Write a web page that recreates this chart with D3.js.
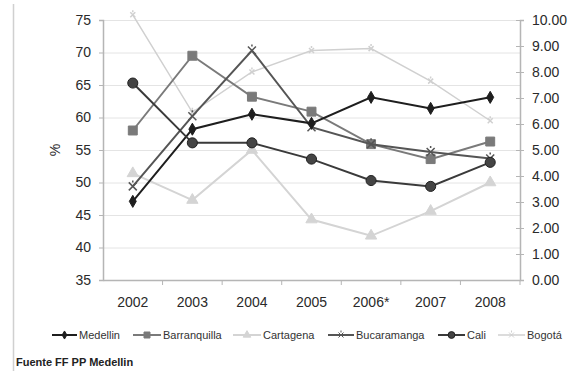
<!DOCTYPE html>
<html><head><meta charset="utf-8">
<script src="https://cdn.jsdelivr.net/npm/d3@7"></script>
<style>
body{margin:0;background:#fff;}
svg{display:block;font-family:"Liberation Sans",Arial,sans-serif;}
</style></head>
<body><svg id="c" width="583" height="371"></svg>
<script>
const categories = ["2002","2003","2004","2005","2006*","2007","2008"];
const leftTicks = [35,40,45,50,55,60,65,70,75];
const rightTicks = [0,1,2,3,4,5,6,7,8,9,10];
const medellin     = [47.1, 58.2, 60.5, 59.1, 63.1, 61.4, 63.1];
const barranquilla = [58.0, 69.5, 63.2, 60.9, 55.9, 53.6, 56.3];
const cartagena    = [51.4, 47.3, 55.0, 44.3, 41.8, 45.6, 50.0];
const bucaramanga  = [49.4, 60.2, 70.3, 58.5, 55.9, 54.7, 53.7];
const cali         = [65.3, 56.1, 56.1, 53.6, 50.3, 49.4, 53.1];
const bogota       = [75.8, 60.8, 67.0, 70.3, 70.6, 65.6, 59.5];

const series = [
  {name:"Medellin", values:medellin, color:"#1e1e1e", width:2, marker:"diamond", size:42, fill:"#1e1e1e"},
  {name:"Barranquilla", values:barranquilla, color:"#7a7a7a", width:2, marker:"square", size:80, fill:"#7a7a7a"},
  {name:"Cartagena", values:cartagena, color:"#d4d4d4", width:2, marker:"triangle", size:55, fill:"#d4d4d4"},
  {name:"Bucaramanga", values:bucaramanga, color:"#555", width:2, marker:"x", size:8, fill:"none"},
  {name:"Cali", values:cali, color:"#3a3a3a", width:2, marker:"circle", size:80, fill:"#444"},
  {name:"Bogotá", values:bogota, color:"#d0d0d0", width:1.5, marker:"x", size:5, fill:"none"}
];

const svg = d3.select("#c");
const L = 103, R = 520, T = 20, B = 280;
const x = d3.scaleBand().domain(categories).range([L, R]).padding(0);
const y = d3.scaleLinear().domain([35, 75]).range([B, T]);
const y2 = d3.scaleLinear().domain([0, 10]).range([B, T]);
const cx = c => x(c) + x.bandwidth()/2;

svg.append("line").attr("x1",13.5).attr("x2",13.5).attr("y1",4).attr("y2",371)
  .attr("stroke","#d0d0d0").attr("stroke-width",1.5);

svg.append("g").selectAll("line").data(leftTicks.filter(t=>t>35)).join("line")
  .attr("x1",L).attr("x2",R).attr("y1",d=>y(d)+0.5).attr("y2",d=>y(d)+0.5)
  .attr("stroke","#e4e4e4").attr("stroke-width",1);

const gl = svg.append("g").attr("transform",`translate(${L},0)`)
  .call(d3.axisLeft(y).tickValues(leftTicks).tickSize(4).tickPadding(8));
const gr = svg.append("g").attr("transform",`translate(${R},0)`)
  .call(d3.axisRight(y2).tickValues(rightTicks).tickFormat(d3.format(".2f")).tickSize(4).tickPadding(8));
const gb = svg.append("g").attr("transform",`translate(0,${B})`)
  .call(d3.axisBottom(x).tickSize(0).tickPadding(17));
[gl,gr,gb].forEach(g=>{
  g.select(".domain").attr("stroke","#b5b5b5").attr("stroke-width",1.5);
  g.selectAll(".tick line").attr("stroke","#b5b5b5");
  g.selectAll("text").attr("fill","#2a2a2a").style("font-size","14px").style("font-family","'Liberation Sans',Arial,sans-serif");
});
gr.selectAll(".tick line").attr("x1",-4);
svg.append("g").selectAll("line").data(categories.slice(1).concat([null])).join("line")
  .attr("x1",d=> d===null? R : x(d)).attr("x2",d=> d===null? R : x(d))
  .attr("y1",B).attr("y2",B+5).attr("stroke","#b5b5b5");

svg.append("text").attr("transform","translate(60,150) rotate(-90)")
  .attr("text-anchor","middle").style("font-size","14px").attr("fill","#2a2a2a").text("%");

function markerPath(type, size){
  if(type==="diamond") return d3.symbol(d3.symbolDiamond, size)();
  if(type==="square") return d3.symbol(d3.symbolSquare, size)();
  if(type==="triangle") return d3.symbol(d3.symbolTriangle, size)();
  if(type==="circle") return d3.symbol(d3.symbolCircle, size)();
  const s = size/2;
  return `M${-s},${-s}L${s},${s}M${-s},${s}L${s},${-s}M0,${-s}L0,${-s-2}`;
}

const line = d3.line().x((d,i)=>cx(categories[i])).y(d=>y(d));
const order = [5,2,1,3,0,4];
order.forEach(k=>{
  const s = series[k];
  const g = svg.append("g");
  g.append("path").datum(s.values).attr("d",line).attr("fill","none")
    .attr("stroke",s.color).attr("stroke-width",s.width);
  g.selectAll("path.m").data(s.values).join("path").attr("class","m")
    .attr("transform",(d,i)=>`translate(${cx(categories[i])},${y(d)})`)
    .attr("d",markerPath(s.marker,s.size))
    .attr("fill",s.fill).attr("stroke", s.marker==="circle" ? "#222" : s.color)
    .attr("stroke-width", s.marker==="x" ? 1.5 : 1);
});

const legendPos = [[52,79],[133,163],[233,263],[328,356],[438,467],[498,527]];
const ly = 335;
series.forEach((s,i)=>{
  const [x0,tx] = legendPos[i];
  const x1 = tx-2;
  svg.append("line").attr("x1",x0).attr("x2",x1).attr("y1",ly).attr("y2",ly)
    .attr("stroke",s.color).attr("stroke-width",s.width);
  svg.append("path").attr("transform",`translate(${(x0+x1)/2},${ly})`)
    .attr("d",markerPath(s.marker, s.marker==="x"? 5 : s.size*0.45))
    .attr("fill",s.fill).attr("stroke",s.marker==="circle"?"#222":s.color)
    .attr("stroke-width",1);
  svg.append("text").attr("x",tx).attr("y",ly+4).style("font-size","11px")
    .attr("fill","#333").text(s.name);
});

svg.append("text").attr("x",16).attr("y",366).style("font-size","11px").style("font-weight","bold")
  .attr("fill","#222").text("Fuente FF PP Medellin");
</script></body></html>
